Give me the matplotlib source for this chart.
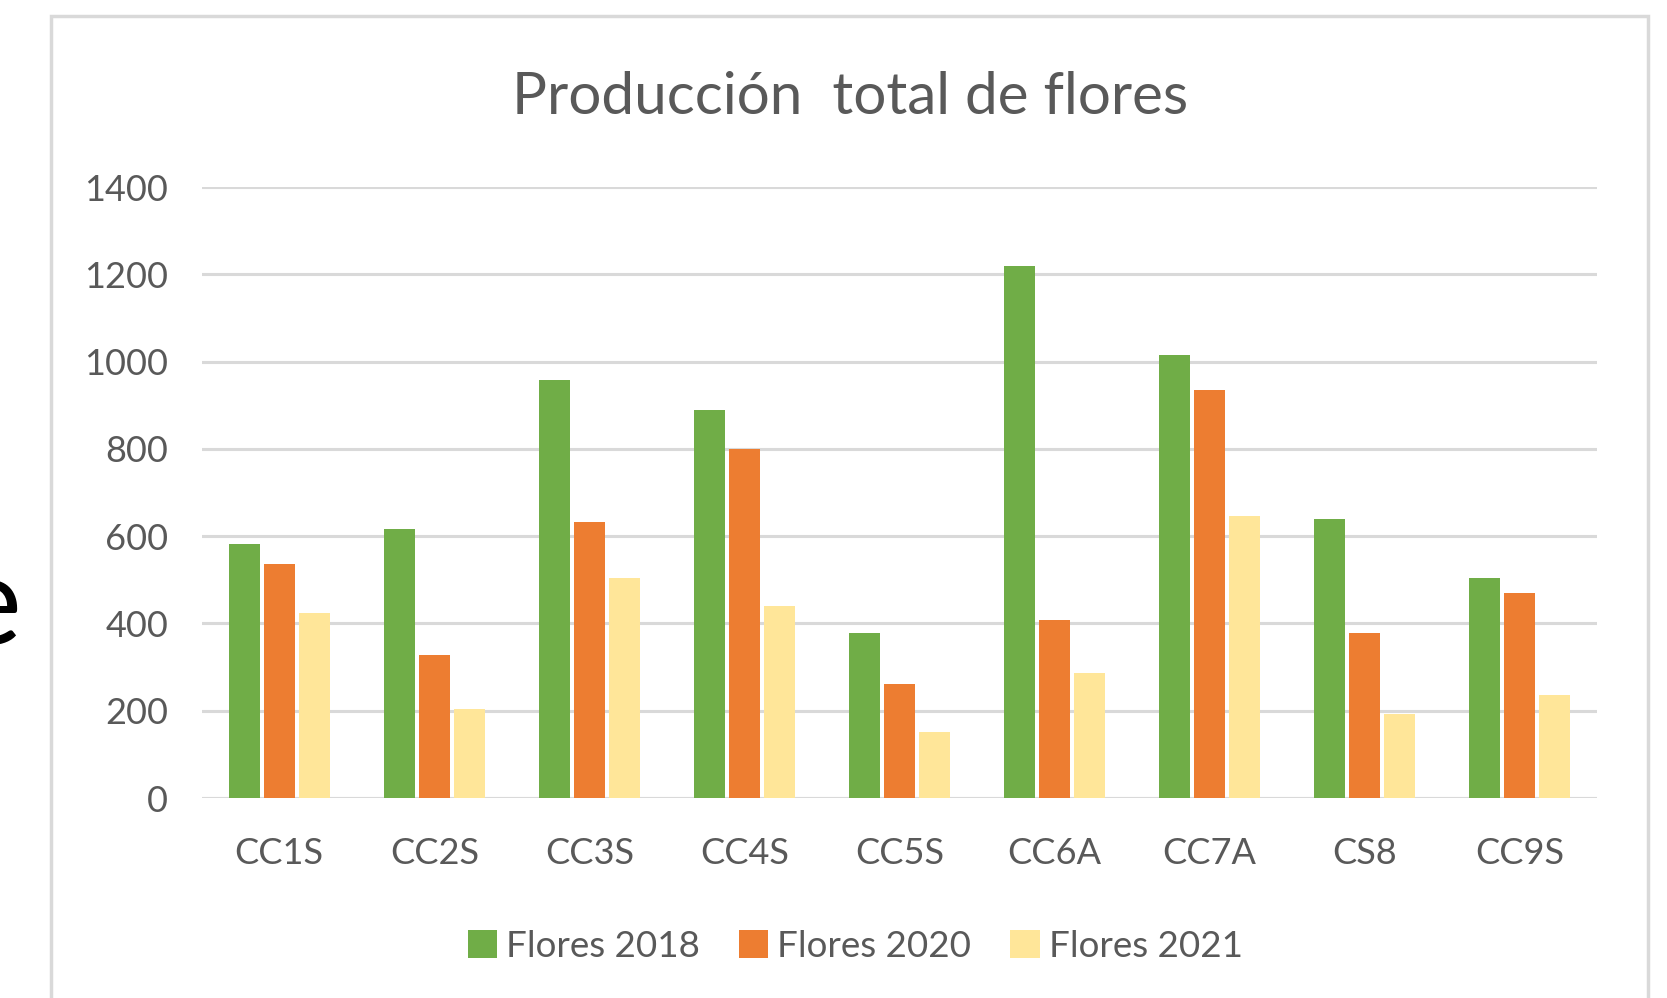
import matplotlib.pyplot as plt
from matplotlib.patches import Rectangle
import numpy as np

plt.rcParams['font.family'] = ['Lato', 'DejaVu Sans']

categories = ["CC1S", "CC2S", "CC3S", "CC4S", "CC5S", "CC6A", "CC7A", "CS8", "CC9S"]
flores_2018 = [582, 617, 957, 890, 377, 1218, 1015, 640, 503]
flores_2020 = [536, 327, 633, 799, 262, 409, 935, 378, 470]
flores_2021 = [425, 205, 505, 439, 151, 287, 646, 192, 236]
series_names = ["Flores 2018", "Flores 2020", "Flores 2021"]
yticks = [0, 200, 400, 600, 800, 1000, 1200, 1400]

colors = ["#70AD47", "#ED7D31", "#FFE699"]
grey = "#595959"

fig = plt.figure(figsize=(16.67, 9.98), dpi=100)
ax = fig.add_axes([0.121, 0.2004, 0.837, 0.6122])

x = np.arange(len(categories))
width = 0.2
step = 0.226
for i, (vals, name) in enumerate(zip([flores_2018, flores_2020, flores_2021], series_names)):
    ax.bar(x + (i - 1) * step, vals, width, color=colors[i], label=name, zorder=3)

ax.set_xlim(-0.5, len(categories) - 0.5)
ax.set_ylim(0, 1400)
ax.set_yticks(yticks)
ax.set_xticks(x)
ax.set_xticklabels(categories)
ax.yaxis.grid(True, color="#D9D9D9", linewidth=2.2, zorder=0)
ax.set_axisbelow(True)
for s in ax.spines.values():
    s.set_visible(False)
ax.tick_params(length=0, labelsize=26, colors=grey)
ax.tick_params(axis="y", pad=24)
ax.tick_params(axis="x", pad=28)
# baseline
ax.axhline(0, color="#D9D9D9", linewidth=2.2, zorder=2)

fig.text(0.51, 0.902, "Producción  total de flores", ha="center", va="center",
         fontsize=42, color=grey)

fig.legend(loc="center", bbox_to_anchor=(0.513, 0.052), ncol=3, frameon=False,
           fontsize=26.5, handlelength=0.8, handleheight=0.8, handletextpad=0.25,
           columnspacing=1.05, labelcolor=grey)

# chart frame
fig.patches.append(Rectangle((51 / 1667, -0.05), (1648 - 51) / 1667, 1.05 - 16 / 998,
                             transform=fig.transFigure, fill=False,
                             edgecolor="#D9D9D9", linewidth=2.5))

# cut-off letter from the slide behind
fig.text(22 / 1667, 0.355, "e", ha="right", va="baseline", fontsize=90, color="black")

fig.savefig("out.png", dpi=100)
